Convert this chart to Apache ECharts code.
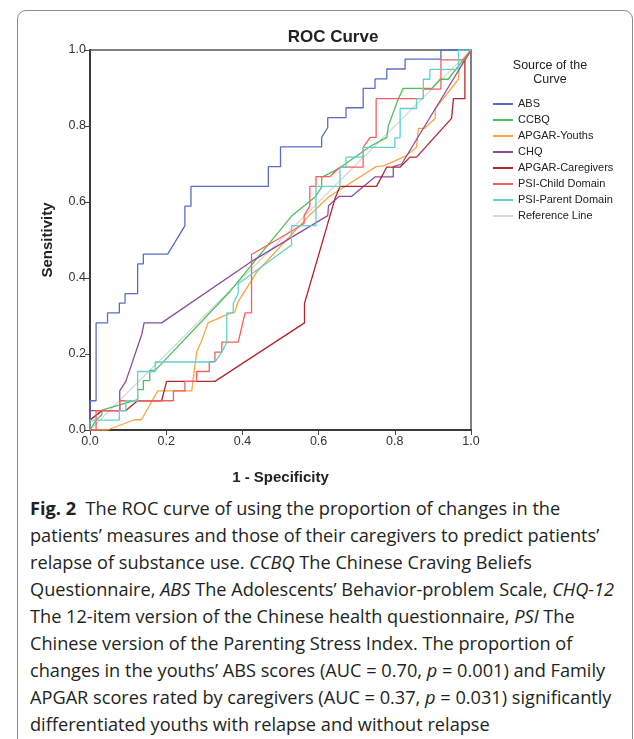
<!DOCTYPE html>
<html><head><meta charset="utf-8">
<script src="https://cdn.jsdelivr.net/npm/echarts@6/dist/echarts.min.js"></script>
<style>
html,body{margin:0;padding:0;background:#fff;width:634px;height:739px;overflow:hidden;}
#frame{position:absolute;left:17px;top:10px;width:614px;height:800px;border:1px solid #8a8a8a;border-radius:9px;}
#chart{position:absolute;left:0;top:0;width:634px;height:490px;}
#cap{position:absolute;left:30px;top:494px;font-family:"Open Sans","Noto Sans",sans-serif;font-size:18.5px;line-height:27px;color:#231f20;white-space:nowrap;transform-origin:0 0;}
#cap span.l{display:block;}
</style></head>
<body>
<div id="frame"></div>
<div id="chart"></div>
<div id="cap">
<span class="l"><b>Fig. 2</b>&nbsp; The ROC curve of using the proportion of changes in the</span>
<span class="l">patients’ measures and those of their caregivers to predict patients’</span>
<span class="l">relapse of substance use. <i>CCBQ</i> The Chinese Craving Beliefs</span>
<span class="l">Questionnaire, <i>ABS</i> The Adolescents’ Behavior-problem Scale, <i>CHQ-12</i></span>
<span class="l">The 12-item version of the Chinese health questionnaire, <i>PSI</i> The</span>
<span class="l">Chinese version of the Parenting Stress Index. The proportion of</span>
<span class="l">changes in the youths’ ABS scores (AUC = 0.70, <i>p</i> = 0.001) and Family</span>
<span class="l">APGAR scores rated by caregivers (AUC = 0.37, <i>p</i> = 0.031) significantly</span>
<span class="l">differentiated youths with relapse and without relapse</span>
</div>
<script>
// ---- data: [1 - specificity, sensitivity] ----
const seriesNames = ["ABS","CCBQ","APGAR-Youths","CHQ","APGAR-Caregivers","PSI-Child Domain","PSI-Parent Domain","Reference Line"];
const xTicks = [0.0,0.2,0.4,0.6,0.8,1.0];
const yTicks = [0.0,0.2,0.4,0.6,0.8,1.0];

const absData = [[0,0],[0,0.077],[0.016,0.077],[0.016,0.282],[0.046,0.282],[0.046,0.308],[0.077,0.308],[0.077,0.334],[0.092,0.334],[0.092,0.359],[0.125,0.359],[0.125,0.437],[0.14,0.437],[0.14,0.463],[0.204,0.463],[0.249,0.537],[0.249,0.589],[0.265,0.589],[0.265,0.641],[0.468,0.641],[0.468,0.693],[0.5,0.693],[0.5,0.745],[0.608,0.745],[0.608,0.77],[0.624,0.796],[0.624,0.822],[0.672,0.822],[0.672,0.848],[0.717,0.848],[0.717,0.899],[0.748,0.899],[0.748,0.924],[0.779,0.924],[0.779,0.95],[0.827,0.95],[0.827,0.976],[0.921,0.976],[0.921,1],[1,1]];
const ccbqData = [[0,0],[0.016,0.026],[0.031,0.04],[0.031,0.052],[0.125,0.08],[0.125,0.106],[0.14,0.106],[0.14,0.13],[0.157,0.13],[0.157,0.157],[0.171,0.157],[0.367,0.364],[0.529,0.563],[0.591,0.613],[0.608,0.639],[0.608,0.665],[0.656,0.69],[0.735,0.746],[0.779,0.77],[0.783,0.8],[0.809,0.871],[0.822,0.899],[0.897,0.899],[0.919,0.923],[0.94,0.923],[1,1]];
const apgarYouthData = [[0,0],[0.045,0],[0.117,0.027],[0.135,0.027],[0.178,0.103],[0.267,0.103],[0.28,0.205],[0.293,0.235],[0.31,0.282],[0.362,0.305],[0.38,0.31],[0.389,0.338],[0.437,0.415],[0.577,0.566],[0.626,0.613],[0.751,0.693],[0.77,0.695],[0.827,0.72],[0.857,0.744],[0.862,0.794],[0.878,0.794],[0.906,0.82],[0.906,0.845],[0.967,0.923],[0.969,0.95],[1,1]];
const chqData = [[0,0],[0,0.051],[0.078,0.051],[0.078,0.103],[0.094,0.128],[0.136,0.252],[0.142,0.282],[0.188,0.282],[0.42,0.441],[0.624,0.564],[0.626,0.59],[0.654,0.615],[0.687,0.615],[0.748,0.666],[0.796,0.666],[0.796,0.693],[0.818,0.7],[1,1]];
const apgarCareData = [[0,0],[0,0.026],[0.031,0.051],[0.094,0.051],[0.125,0.077],[0.188,0.077],[0.201,0.128],[0.328,0.128],[0.563,0.282],[0.563,0.333],[0.643,0.609],[0.656,0.641],[0.752,0.641],[0.779,0.692],[0.814,0.692],[0.84,0.718],[0.857,0.718],[0.949,0.82],[0.954,0.872],[0.984,0.872],[0.984,0.974],[1,1]];
const psiChildData = [[0,0],[0.016,0],[0.016,0.051],[0.078,0.051],[0.078,0.077],[0.219,0.077],[0.219,0.103],[0.249,0.103],[0.249,0.128],[0.28,0.128],[0.28,0.154],[0.313,0.154],[0.313,0.18],[0.328,0.18],[0.328,0.205],[0.346,0.205],[0.346,0.231],[0.389,0.231],[0.407,0.308],[0.424,0.308],[0.424,0.462],[0.529,0.523],[0.562,0.544],[0.562,0.564],[0.577,0.59],[0.577,0.641],[0.593,0.641],[0.593,0.667],[0.63,0.667],[0.656,0.692],[0.717,0.692],[0.717,0.744],[0.735,0.77],[0.751,0.77],[0.751,0.872],[0.875,0.872],[0.875,0.897],[0.921,0.897],[0.921,0.974],[0.984,0.974],[1,1]];
const psiParentData = [[0,0],[0,0.026],[0.077,0.026],[0.077,0.051],[0.094,0.051],[0.094,0.077],[0.125,0.077],[0.125,0.154],[0.171,0.154],[0.171,0.179],[0.328,0.179],[0.346,0.205],[0.359,0.231],[0.359,0.308],[0.376,0.308],[0.376,0.333],[0.389,0.359],[0.389,0.385],[0.529,0.487],[0.529,0.538],[0.593,0.538],[0.593,0.641],[0.656,0.641],[0.656,0.692],[0.672,0.692],[0.672,0.718],[0.717,0.718],[0.717,0.744],[0.8,0.744],[0.8,0.769],[0.814,0.769],[0.814,0.846],[0.857,0.846],[0.857,0.872],[0.875,0.872],[0.875,0.923],[0.892,0.923],[0.892,0.949],[0.967,0.949],[0.967,1],[1,1]];
const refData = [[0,0],[1,1]];

const colors = ["#5a6dc6","#4cc15a","#f9a641","#8e4b9e","#b3262b","#fb5c5c","#62d0d0","#d9d9d9"];
const allData = [absData,ccbqData,apgarYouthData,chqData,apgarCareData,psiChildData,psiParentData,refData];

const chart = echarts.init(document.getElementById('chart'), null, {renderer:'canvas'});
const drawOrder = [7,0,1,2,3,4,5,6];
const series = drawOrder.map(i => ({
  name: seriesNames[i], type:'line', data: allData[i], showSymbol:false, symbol:'none',
  lineStyle:{color:colors[i], width:1.3}, itemStyle:{color:colors[i]}, animation:false, z: 2 + (i===7?0:1)
}));
const fam = 'Arial, "Liberation Sans"';
const fmt = ticks => v => {const t=ticks.find(a=>Math.abs(a-v)<1e-6);return (t===undefined?v:t).toFixed(1);};
chart.setOption({
  animation:false,
  title:{text:'ROC Curve', left:328, top:24, textAlign:'center',
    textStyle:{fontFamily:fam, fontSize:17, fontWeight:'bold', color:'#222'}},
  grid:{left:90, top:50, width:381, height:388, show:true, borderColor:'#555', borderWidth:1.5, backgroundColor:'transparent'},
  xAxis:{type:'value', min:0, max:1, interval:0.2,
    name:'1 - Specificity', nameLocation:'middle', nameGap:40,
    nameTextStyle:{fontFamily:fam, fontSize:15, fontWeight:'bold', color:'#222'},
    axisLine:{show:true, lineStyle:{color:'#3a3a3a', width:2}},
    axisTick:{show:true, length:5, lineStyle:{color:'#444'}},
    axisLabel:{fontFamily:fam, fontSize:12.5, color:'#333', margin:5, formatter:fmt(xTicks)},
    splitLine:{show:false}},
  yAxis:{type:'value', min:0, max:1, interval:0.2,
    name:'Sensitivity', nameLocation:'middle', nameGap:35, nameRotate:90,
    nameTextStyle:{fontFamily:fam, fontSize:15, fontWeight:'bold', color:'#222'},
    axisLine:{show:true, lineStyle:{color:'#3a3a3a', width:2}},
    axisTick:{show:true, length:5, lineStyle:{color:'#444'}},
    axisLabel:{fontFamily:fam, fontSize:12.5, color:'#333', margin:4, formatter:fmt(yTicks)},
    splitLine:{show:false}},
  legend:{orient:'vertical', left:488, top:92, data:seriesNames, icon:'rect', itemWidth:20, itemHeight:2,
    itemGap:2, textStyle:{fontFamily:fam, fontSize:11, lineHeight:14, color:'#222'},
    selectedMode:false},
  graphic:[{type:'text', x:550, y:59, style:{text:'Source of the\nCurve', align:'center',
    fontFamily:fam, fontSize:12.5, lineHeight:14, fill:'#222'}}],
  series: series
});
// caption width fit
const cap = document.getElementById('cap');
let maxW = 0; cap.querySelectorAll('span.l').forEach(s=>{ s.style.display='inline-block'; maxW=Math.max(maxW,s.getBoundingClientRect().width); s.style.display='block'; });
const sc = 584/maxW;
cap.style.transform = 'scaleX(' + sc.toFixed(4) + ')';
</script>
</body></html>
